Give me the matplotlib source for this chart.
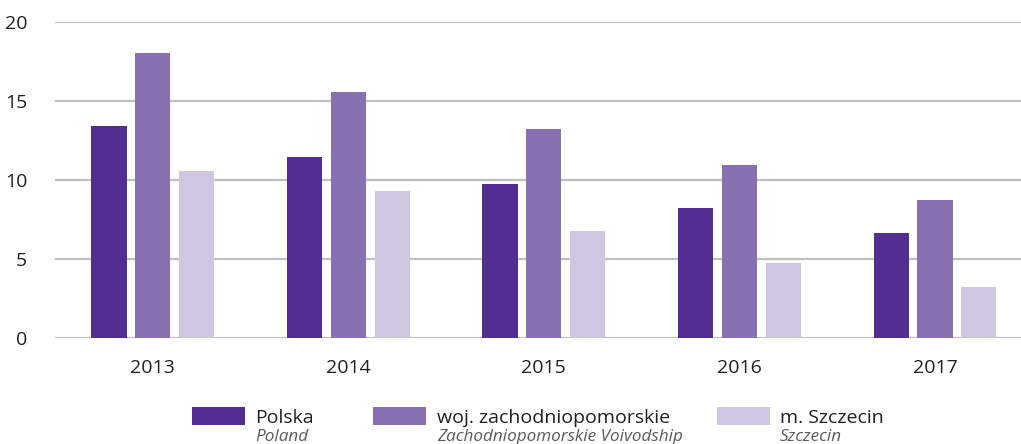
import matplotlib
matplotlib.use("Agg")
import matplotlib.pyplot as plt
from matplotlib.patches import Rectangle
import numpy as np

years = ["2013", "2014", "2015", "2016", "2017"]
polska = [13.4, 11.45, 9.75, 8.2, 6.65]
zachodniopomorskie = [18.05, 15.6, 13.2, 10.95, 8.75]
szczecin = [10.6, 9.3, 6.8, 4.75, 3.2]
series_names = ["Polska", "woj. zachodniopomorskie", "m. Szczecin"]
series_names_en = ["Poland", "Zachodniopomorskie Voivodship", "Szczecin"]
yticks = [0, 5, 10, 15, 20]

colors = ["#522e91", "#8771b0", "#cfc7e1"]
text_color = "#231f20"
plt.rcParams['font.family'] = ['Open Sans', 'DejaVu Sans']

W, H = 1021, 444
fig = plt.figure(figsize=(W / 100, H / 100), dpi=100)
ax = fig.add_axes([55 / W, (H - 338) / H, (W - 55) / W, (338 - 22) / H])

x = np.arange(len(years))
bw = 0.18
off = 0.224
for i, (vals, c) in enumerate(zip([polska, zachodniopomorskie, szczecin], colors)):
    ax.bar(x + (i - 1) * off, vals, width=bw, color=c, zorder=3)

ax.set_ylim(0, 20)
ax.set_xlim(-0.5, 4.44)
ax.set_yticks(yticks)
ax.set_yticklabels([str(v) for v in yticks])
ax.set_xticks(x)
ax.set_xticklabels(years)
ax.yaxis.grid(True, color="#bfbfbf", linewidth=1.6, zorder=0)
ax.set_axisbelow(True)
for s in ax.spines.values():
    s.set_visible(False)
ax.tick_params(axis="both", length=0, labelsize=14, colors=text_color)
ax.tick_params(axis="y", pad=20)
ax.tick_params(axis="x", pad=15)

# legend
patch_x = [192, 373, 717]
text_x = [255, 437, 780]
for px, tx, c, n, ne in zip(patch_x, text_x, colors, series_names, series_names_en):
    fig.add_artist(Rectangle((px / W, (H - 425) / H), 53 / W, 18 / H,
                             transform=fig.transFigure, color=c, lw=0))
    fig.text(tx / W, (H - 423) / H, n, fontsize=14, color=text_color, va="baseline", ha="left")
    fig.text(tx / W, (H - 441) / H, ne, fontsize=12.3, color="#5a5a5a", style="italic",
             va="baseline", ha="left")

fig.savefig("out.png", dpi=100)
